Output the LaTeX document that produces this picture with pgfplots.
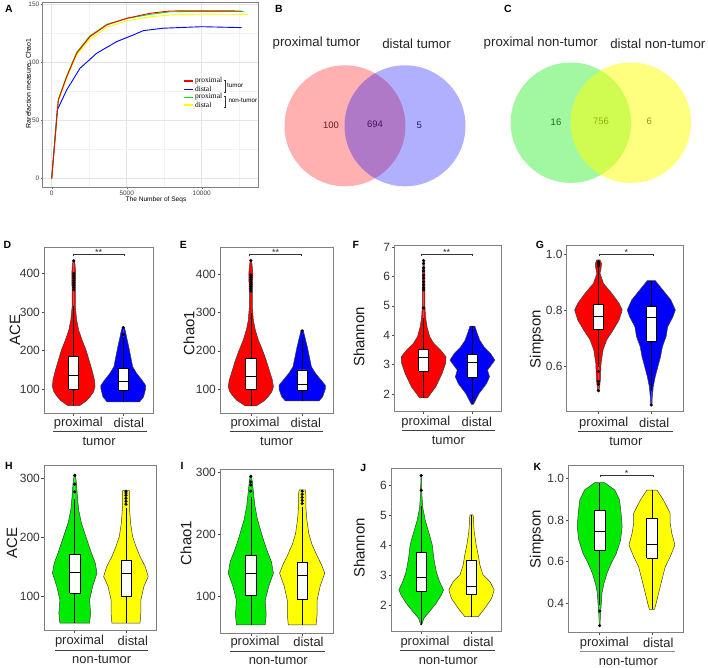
\documentclass[border=0pt]{standalone}
\usepackage{fontspec}
\setmainfont{Liberation Sans}
\newfontfamily\serifL{Liberation Serif}
\usepackage{pgfplots}
\usepackage{pgfplotstable}
\pgfplotsset{compat=1.18}

\definecolor{cR}{RGB}{255,0,0}
\definecolor{cB}{RGB}{0,0,255}
\definecolor{cG}{RGB}{0,235,0}
\definecolor{cY}{RGB}{255,255,0}
\definecolor{vline}{RGB}{60,60,60}
\newcommand\fs[1]{\fontsize{#1}{#1}\selectfont}

% ---------- violin profiles: y value, half width (category units)
\pgfplotstableread{
y w
57 0
57 0.117
70 0.26
80 0.33
93 0.40
106 0.43
123 0.42
149 0.37
175 0.31
201 0.25
227 0.17
253 0.10
279 0.06
313 0.033
356 0.033
400 0.04
425 0.025
433 0.01
433 0
}\tDp
\pgfplotstableread{
y w
67 0
67 0.33
80 0.41
100 0.45
110 0.45
123 0.38
141 0.27
158 0.19
184 0.15
210 0.11
235 0.067
252 0.04
260 0.02
260 0
}\tDd
\pgfplotstableread{
y w
56 0
56 0.11
70 0.27
80 0.34
93 0.41
106 0.44
123 0.42
149 0.36
175 0.30
201 0.23
227 0.15
253 0.09
279 0.05
313 0.03
356 0.03
400 0.04
425 0.025
436 0.01
436 0
}\tEp
\pgfplotstableread{
y w
69 0
69 0.33
80 0.40
100 0.45
110 0.45
123 0.37
141 0.26
158 0.18
184 0.14
210 0.10
232 0.06
254 0.02
254 0
}\tEd
\pgfplotstableread{
y w
1.86 0
1.86 0.08
2.24 0.25
2.70 0.38
3.04 0.45
3.26 0.46
3.49 0.35
3.72 0.21
3.95 0.125
4.29 0.07
4.63 0.04
4.97 0.027
5.5 0.027
6.07 0.027
6.54 0.01
6.54 0
}\tFp
\pgfplotstableread{
y w
1.64 0
1.64 0.02
2.01 0.135
2.35 0.29
2.58 0.35
2.81 0.31
3.15 0.46
3.38 0.37
3.60 0.24
3.83 0.15
4.06 0.10
4.31 0.05
4.31 0
}\tFd
\pgfplotstableread{
y w
0.512 0
0.512 0.012
0.55 0.037
0.61 0.05
0.657 0.087
0.693 0.156
0.729 0.28
0.764 0.39
0.80 0.45
0.824 0.39
0.86 0.25
0.895 0.094
0.931 0.03
0.949 0.05
0.965 0.06
0.979 0.03
0.979 0
}\tGp
\pgfplotstableread{
y w
0.461 0
0.461 0.012
0.49 0.019
0.526 0.037
0.562 0.075
0.598 0.125
0.633 0.175
0.669 0.21
0.705 0.28
0.74 0.31
0.776 0.41
0.80 0.455
0.836 0.37
0.871 0.22
0.905 0.075
0.905 0
}\tGd
\pgfplotstableread{
y w
53.6 0
53.6 0.29
70.6 0.31
93 0.29
116 0.35
139 0.435
156 0.40
173 0.325
190 0.26
207 0.195
224 0.13
246 0.077
269 0.052
292 0.033
306 0.011
306 0
}\tHp
\pgfplotstableread{
y w
53.6 0
53.6 0.275
70.6 0.29
93 0.29
116 0.35
133 0.435
150 0.375
167 0.275
184 0.195
201 0.13
224 0.09
246 0.072
269 0.072
279 0.066
279 0
}\tHd
\pgfplotstableread{
y w
53 0
53 0.28
70 0.30
93 0.28
116 0.35
137 0.44
156 0.40
173 0.32
190 0.25
207 0.19
224 0.13
246 0.08
269 0.05
285 0.03
296 0.01
296 0
}\tIp
\pgfplotstableread{
y w
53 0
53 0.27
70 0.29
93 0.29
116 0.35
137 0.44
150 0.38
167 0.28
184 0.19
201 0.13
224 0.09
246 0.07
265 0.07
272 0.06
272 0
}\tId
\pgfplotstableread{
y w
1.35 0
1.35 0.01
1.57 0.053
1.79 0.166
2.07 0.30
2.34 0.40
2.51 0.444
2.79 0.365
3.12 0.30
3.57 0.25
4.01 0.22
4.34 0.166
4.79 0.086
5.23 0.033
5.68 0.013
6.32 0.005
6.32 0
}\tJp
\pgfplotstableread{
y w
1.62 0
1.62 0.133
1.9 0.265
2.23 0.40
2.51 0.45
2.79 0.365
3.01 0.23
3.34 0.166
3.68 0.133
4.01 0.093
4.45 0.053
5.01 0.033
5.01 0
}\tJd
\pgfplotstableread{
y w
0.293 0
0.293 0.005
0.363 0.02
0.40 0.032
0.448 0.044
0.496 0.082
0.544 0.14
0.592 0.22
0.64 0.32
0.704 0.40
0.768 0.43
0.832 0.41
0.896 0.38
0.944 0.29
0.979 0.095
0.979 0
}\tKp
\pgfplotstableread{
y w
0.371 0
0.371 0.05
0.40 0.08
0.448 0.127
0.512 0.19
0.576 0.255
0.624 0.35
0.68 0.44
0.736 0.38
0.784 0.35
0.832 0.35
0.896 0.22
0.944 0.095
0.944 0
}\tKd

% violin: two mirrored halves, filled (path closes on the centre line)
\newcommand\violin[3]{%
  \addplot[fill=#3, draw=vline, line width=0.5bp, line join=round] table[x expr=#2+\thisrow{w}, y=y]{#1};
  \addplot[fill=#3, draw=vline, line width=0.5bp, line join=round] table[x expr=#2-\thisrow{w}, y=y]{#1};
}
% box: centre, left, right, lower whisker, q1, median, q3, upper whisker
\newcommand\vbx[8]{%
  \addplot[black, line width=0.6bp] coordinates {(#1,#4) (#1,#5)};
  \addplot[black, line width=0.6bp] coordinates {(#1,#7) (#1,#8)};
  \addplot[fill=white, draw=black, line width=0.6bp] coordinates {(#2,#5) (#3,#5) (#3,#7) (#2,#7) (#2,#5)};
  \addplot[black, line width=0.8bp] coordinates {(#2,#6) (#3,#6)};
}
\pgfplotsset{
  outl/.style={only marks, mark=*, mark size=1.4bp, black, mark options={fill=black}},
  vio/.style={scale only axis, anchor=north west, clip=false,
    xmin=0.4, xmax=2.6, xtick={1,2}, xticklabels={,,},
    tick pos=left, tick align=outside, major tick length=2.5bp,
    tick style={black!70, line width=0.5bp},
    axis line style={black!50, line width=0.6bp},
    yticklabel style={font=\fs{12}, text=black!80, inner sep=1.5bp},
    /pgf/number format/assume math mode=true},
  dec/.style={yticklabel style={/pgf/number format/.cd, fixed, fixed zerofill, precision=1}},
  venn/.style={only marks, mark=*, draw opacity=0, mark options={draw opacity=0, line width=0pt, fill=#1}},
}

\begin{document}
\begin{tikzpicture}
\path[use as bounding box] (0bp,-668bp) rectangle (708bp,0bp);

% ================= A: rarefaction
\begin{axis}[scale only axis, anchor=north west, at={(42.7bp,-2.7bp)}, width=215.6bp, height=184.6bp,
  xmin=-600, xmax=13773, ymin=-7.5, ymax=151,
  xtick={0,5000,10000}, minor xtick={2500,7500,12500},
  ytick={0,50,100,150}, minor ytick={25,75,125},
  grid=both, major grid style={draw=black!10, line width=0.45bp}, minor grid style={draw=black!5, line width=0.35bp},
  axis line style={black!50, line width=0.6bp}, tick pos=left, tick align=outside,
  major tick length=2bp, minor tick length=0bp, tick style={black!60, line width=0.4bp},
  ticklabel style={font=\fs{6.5}, text=black!75, inner sep=1.2bp},
  scaled x ticks=false, xticklabel style={/pgf/number format/1000 sep={}},
  /pgf/number format/assume math mode=true, clip=false]
\addplot[cY, line width=0.9bp] coordinates {(0,0) (440,66.5) (1000,86.5) (1667,106) (2553,119.8) (3667,129.8) (5000,135.5) (6553,138.8) (7887,140.5) (10000,141.2) (13100,141)};
\addplot[cB, line width=0.9bp] coordinates {(0,0) (373,58.9) (1000,76.1) (1887,94.7) (3000,107.6) (4333,117.6) (5440,123.3) (6107,127) (7440,129.1) (10000,130.4) (12667,129.6)};
\addplot[cG, line width=0.9bp] coordinates {(0,0) (440,67.8) (1000,88.2) (1667,108.4) (2553,122.6) (3667,132.4) (5000,137.4) (6553,141) (7887,143.2) (10000,143.5) (12800,143.4)};
\addplot[cR, line width=0.9bp] coordinates {(0,0) (440,67.4) (1000,87.4) (1667,107.6) (2553,121.9) (3667,131.9) (5000,137.6) (6553,141.9) (7887,143.9) (10000,144) (12667,143.9)};
% legend samples
\addplot[cR, line width=1.1bp] coordinates {(8820,83.8) (9400,83.8)};
\addplot[cB, line width=1.1bp] coordinates {(8820,76.6) (9400,76.6)};
\addplot[cG, line width=1.1bp] coordinates {(8820,69.4) (9400,69.4)};
\addplot[cY, line width=1.1bp] coordinates {(8820,63.2) (9400,63.2)};
\end{axis}
\node[font=\fs{6.6}, inner sep=0] at (156bp,-200bp) {The Number of Seqs};
\node[rotate=90, inner sep=0, font=\fs{7}] at (28.3bp,-83.3bp) {Rarefaction measure: Chao1};
\node[anchor=west, font=\serifL\fs{7.5}, inner sep=0] at (195bp,-80.5bp) {proximal};
\node[anchor=west, font=\serifL\fs{7.5}, inner sep=0] at (195bp,-89.3bp) {distal};
\node[anchor=west, font=\serifL\fs{7.5}, inner sep=0] at (195bp,-97.2bp) {proximal};
\node[anchor=west, font=\serifL\fs{7.5}, inner sep=0] at (195bp,-105bp) {distal};
\draw[black!80, line width=0.4bp] (223.8bp,-80bp) -- (225.6bp,-80bp) -- (225.6bp,-91.7bp) -- (223.8bp,-91.7bp);
\draw[black!80, line width=0.4bp] (223.8bp,-96bp) -- (225.6bp,-96bp) -- (225.6bp,-107.3bp) -- (223.8bp,-107.3bp);
\node[anchor=west, font=\fs{6.3}, inner sep=0] at (227bp,-86bp) {tumor};
\node[anchor=west, font=\fs{6.3}, inner sep=0] at (228.3bp,-100.5bp) {non-tumor};

% ================= B, C: Venn
\begin{axis}[scale only axis, anchor=north west, at={(240bp,0bp)}, width=468bp, height=230bp,
  xmin=240, xmax=708, ymin=-230, ymax=0, hide axis, clip=false]
\addplot[venn=cR, mark size=60.5bp, fill opacity=0.31] coordinates {(345,-125.8)};
\addplot[venn=cB, mark size=60.5bp, fill opacity=0.31] coordinates {(405,-125.8)};
\addplot[venn=cG, mark size=60.2bp, fill opacity=0.37] coordinates {(570.8,-122.7)};
\addplot[venn=cY, mark size=60.2bp, fill opacity=0.5] coordinates {(630.8,-122.7)};
\node[font=\fs{9.5}, inner sep=0, text=black!85] at (axis cs:331,-125) {100};
\node[font=\fs{9.5}, inner sep=0, text=black!85] at (axis cs:375,-124.7) {694};
\node[font=\fs{9.5}, inner sep=0, text=black!85] at (axis cs:419.3,-125) {5};
\node[font=\fs{9.5}, inner sep=0, text=black!85] at (axis cs:556,-122.7) {16};
\node[font=\fs{9.5}, inner sep=0, text=black!85] at (axis cs:601,-121.3) {756};
\node[font=\fs{9.5}, inner sep=0, text=black!85] at (axis cs:649.3,-121.7) {6};
\end{axis}
\node[font=\fs{13.3}, inner sep=0, text=black!85] at (316.5bp,-43.3bp) {proximal tumor};
\node[font=\fs{13.3}, inner sep=0, text=black!85] at (416.5bp,-43.3bp) {distal tumor};
\node[font=\fs{13.3}, inner sep=0, text=black!85] at (540.8bp,-43.3bp) {proximal non-tumor};
\node[font=\fs{13.3}, inner sep=0, text=black!85] at (657.8bp,-43.3bp) {distal non-tumor};

% ================= D
\begin{axis}[vio, at={(44bp,-247bp)}, width=109bp, height=166bp, ymin=38, ymax=469, ytick={100,200,300,400}]
\violin{\tDp}{1}{cR}
\violin{\tDd}{2}{cB}
\vbx{1}{0.9}{1.1}{57}{100}{136}{186}{315}
\vbx{2}{1.9}{2.1}{67}{97.4}{119}{153.6}{235}
\addplot[outl] coordinates {(1,358)(1,364)(1,370)(1,376)(1,382)(1,388)(1,394)(1,400)(1,433)(2,242)(2,260)};
\end{axis}
% ================= E
\begin{axis}[vio, at={(220bp,-247bp)}, width=113bp, height=166bp, ymin=37.2, ymax=471.4, ytick={100,200,300,400}]
\violin{\tEp}{1}{cR}
\violin{\tEd}{2}{cB}
\vbx{1}{0.9}{1.1}{56}{100}{132}{180}{300}
\vbx{2}{1.9}{2.1}{69}{96}{113}{150}{232}
\addplot[outl] coordinates {(1,356)(1,362)(1,368)(1,374)(1,380)(1,386)(1,392)(1,398)(1,436)(2,252)};
\end{axis}
% ================= F
\begin{axis}[vio, at={(394.3bp,-245bp)}, width=107.4bp, height=166.7bp, ymin=1.39, ymax=7.08, ytick={2,3,4,5,6,7}]
\violin{\tFp}{1}{cR}
\violin{\tFd}{2}{cB}
\vbx{1}{0.9}{1.1}{1.86}{2.77}{3.23}{3.51}{4.6}
\vbx{2}{1.9}{2.1}{1.64}{2.55}{3.07}{3.35}{4.31}
\addplot[outl] coordinates {(1,4.93)(1,5.55)(1,5.62)(1,5.72)(1,5.82)(1,5.95)(1,6.05)(1,6.2)(1,6.3)(1,6.45)(1,6.55)};
\end{axis}
% ================= G
\begin{axis}[vio, dec, at={(566.7bp,-245bp)}, width=116.3bp, height=166.7bp, ymin=0.437, ymax=1.032, ytick={0.6,0.8,1.0}]
\violin{\tGp}{1}{cR}
\violin{\tGd}{2}{cB}
\vbx{1}{0.9}{1.1}{0.597}{0.731}{0.776}{0.82}{0.95}
\vbx{2}{1.9}{2.1}{0.51}{0.69}{0.774}{0.812}{0.905}
\addplot[outl] coordinates {(1,0.512)(1,0.535)(1,0.545)(1,0.58)(1,0.956)(1,0.962)(1,0.968)(1,0.972)(2,0.461)};
\end{axis}
% ================= H
\begin{axis}[vio, at={(44bp,-465bp)}, width=112.7bp, height=165bp, ymin=42, ymax=322.6, ytick={100,200,300}]
\violin{\tHp}{1}{cG}
\violin{\tHd}{2}{cY}
\vbx{1}{0.9}{1.1}{53.6}{105}{140.3}{171}{265}
\vbx{2}{1.9}{2.1}{53.6}{100}{138.6}{161}{250}
\addplot[outl] coordinates {(1,277)(1,290)(1,305)(2,256)(2,261)(2,266)(2,271)(2,275)(2,278)};
\end{axis}
% ================= I
\begin{axis}[vio, at={(220bp,-469bp)}, width=113bp, height=164bp, ymin=40, ymax=306, ytick={100,200,300}]
\violin{\tIp}{1}{cG}
\violin{\tId}{2}{cY}
\vbx{1}{0.9}{1.1}{53}{100.5}{136.8}{165.4}{260}
\vbx{2}{1.9}{2.1}{53}{94.6}{133.5}{154.6}{245}
\addplot[outl] coordinates {(1,270)(1,280)(1,285)(1,294)(2,250)(2,255)(2,260)(2,265)(2,270)};
\end{axis}
% ================= J
\begin{axis}[vio, at={(391bp,-468.3bp)}, width=110.7bp, height=163.4bp, ymin=1.12, ymax=6.56, ytick={2,3,4,5,6}]
\violin{\tJp}{1}{cG}
\violin{\tJd}{2}{cY}
\vbx{1}{0.9}{1.1}{1.35}{2.45}{2.92}{3.75}{5.3}
\vbx{2}{1.9}{2.1}{1.62}{2.37}{2.62}{3.51}{5.01}
\addplot[outl] coordinates {(1,5.83)(1,6.32)};
\end{axis}
% ================= K
\begin{axis}[vio, dec, at={(568.3bp,-465bp)}, width=115bp, height=167.7bp, ymin=0.259, ymax=1.064, ytick={0.4,0.6,0.8,1.0}]
\violin{\tKp}{1}{cG}
\violin{\tKd}{2}{cY}
\vbx{1}{0.9}{1.1}{0.39}{0.656}{0.747}{0.848}{0.979}
\vbx{2}{1.9}{2.1}{0.371}{0.616}{0.683}{0.808}{0.944}
\addplot[outl] coordinates {(1,0.363)(1,0.293)};
\end{axis}

% ---------- y labels
\begin{scope}[every node/.style={rotate=90, font=\fs{15}, inner sep=0, text=black!90}]
\node at (15bp,-330bp) {ACE};
\node at (189bp,-333bp) {Chao1};
\node at (359bp,-337bp) {Shannon};
\node at (536.7bp,-339bp) {Simpson};
\node at (12bp,-543bp) {ACE};
\node at (186bp,-543bp) {Chao1};
\node at (359.3bp,-548bp) {Shannon};
\node at (536.7bp,-539bp) {Simpson};
\end{scope}
% ---------- category labels
\begin{scope}[every node/.style={font=\fs{13}, inner sep=0, text=black!85}]
\node at (78.3bp,-422.7bp) {proximal}; \node at (128.8bp,-422.7bp) {distal};
\node at (255bp,-422.7bp) {proximal}; \node at (305.8bp,-422.7bp) {distal};
\node at (425.8bp,-421.7bp) {proximal}; \node at (476.8bp,-421.7bp) {distal};
\node at (603.7bp,-422.7bp) {proximal}; \node at (654.2bp,-422.7bp) {distal};
\node at (99.2bp,-441.7bp) {tumor}; \node at (276.7bp,-441.7bp) {tumor};
\node at (448.3bp,-440.7bp) {tumor}; \node at (625.8bp,-441.7bp) {tumor};
\node at (79.5bp,-640.7bp) {proximal}; \node at (132.8bp,-640.7bp) {distal};
\node at (255bp,-642.3bp) {proximal}; \node at (308.5bp,-642.3bp) {distal};
\node at (425bp,-641.7bp) {proximal}; \node at (478.3bp,-641.7bp) {distal};
\node at (604.3bp,-642.7bp) {proximal}; \node at (658.3bp,-642.7bp) {distal};
\node at (101.7bp,-659.3bp) {non-tumor}; \node at (278.3bp,-660.7bp) {non-tumor};
\node at (448.3bp,-660bp) {non-tumor}; \node at (628.3bp,-661.7bp) {non-tumor};
\end{scope}
% ---------- group underlines
\begin{scope}[black!75, line width=0.7bp]
\draw (53bp,-431.7bp) -- (147bp,-431.7bp);
\draw (230bp,-431.7bp) -- (323.3bp,-431.7bp);
\draw (401.7bp,-430.7bp) -- (495bp,-430.7bp);
\draw (578.3bp,-431.7bp) -- (673.3bp,-431.7bp);
\draw (55bp,-650bp) -- (148.3bp,-650bp);
\draw (230bp,-651bp) -- (325bp,-651bp);
\draw (400bp,-650bp) -- (495bp,-650bp);
\draw[black!45] (580bp,-651bp) -- (675bp,-651bp);
\end{scope}
% ---------- significance brackets
\begin{scope}[black!80, line width=0.5bp]
\draw (73.3bp,-256.3bp) -- (73.3bp,-254bp) -- (124bp,-254bp) -- (124bp,-256.3bp);
\draw (249.3bp,-256.3bp) -- (249.3bp,-254bp) -- (301.7bp,-254bp) -- (301.7bp,-256.3bp);
\draw (421bp,-256.3bp) -- (421bp,-254bp) -- (472.3bp,-254bp) -- (472.3bp,-256.3bp);
\draw (599.3bp,-256.3bp) -- (599.3bp,-254bp) -- (653.3bp,-254bp) -- (653.3bp,-256.3bp);
\draw (600bp,-477.3bp) -- (600bp,-475bp) -- (653.3bp,-475bp) -- (653.3bp,-477.3bp);
\end{scope}
\begin{scope}[every node/.style={font=\fs{9}, inner sep=0, anchor=base, text=black!85}]
\node at (98.7bp,-255.2bp) {**};
\node at (275.5bp,-255.2bp) {**};
\node at (446.7bp,-255.2bp) {**};
\node at (626.3bp,-255.2bp) {*};
\node at (626.7bp,-476.2bp) {*};
\end{scope}
% ---------- panel letters
\begin{scope}[every node/.style={font=\bfseries\fs{10.5}, inner sep=0}]
\node at (8.8bp,-9bp) {A};
\node at (279bp,-9bp) {B};
\node at (508bp,-9bp) {C};
\node at (7.5bp,-245bp) {D};
\node at (183.3bp,-245bp) {E};
\node at (355.8bp,-245bp) {F};
\node at (540bp,-245bp) {G};
\node at (9bp,-466bp) {H};
\node at (182bp,-466bp) {I};
\node at (363.3bp,-467.5bp) {J};
\node at (537.5bp,-467bp) {K};
\end{scope}
\end{tikzpicture}
\end{document}
